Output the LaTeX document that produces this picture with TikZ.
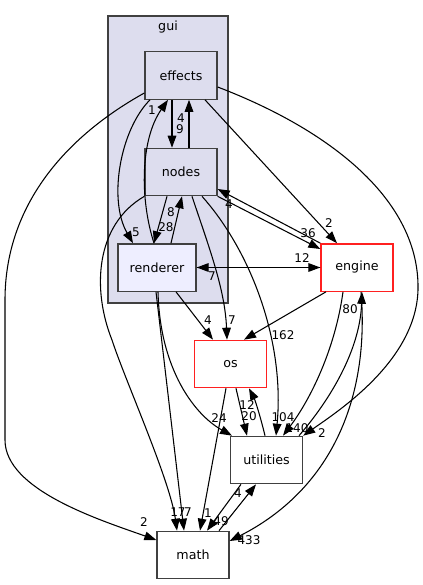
\documentclass[tikz,border=0pt]{standalone}
\usepackage{fontspec}
\setmainfont{DejaVu Sans}
\usetikzlibrary{arrows.meta}
\definecolor{guifill}{HTML}{DDDDEE}
\definecolor{rendfill}{HTML}{EEEEFF}
\definecolor{boxline}{HTML}{404040}
\definecolor{redline}{HTML}{FF2020}
\begin{document}
\begin{tikzpicture}[x=0.75pt,y=-0.75pt,
	dir/.style={draw=boxline,line width=1pt,minimum width=54pt,minimum height=35.5pt,inner sep=0pt,font=\fontsize{9.5}{11}\selectfont},
	dep/.style={-{Triangle[length=9pt,width=6.5pt]},line width=0.8pt},
	num/.style={inner sep=0pt,font=\fontsize{9}{10}\selectfont}]
	\useasboundingbox (0,0) rectangle (422,585);
	\node[draw=boxline,fill=guifill,line width=1pt,minimum width=90pt,minimum height=215.25pt] (gui) at (168,159.5) {};
	\node[font=\fontsize{9.5}{11}\selectfont] (guilbl) at (168,27) {gui};
	\node[dir,fill=guifill] (effects) at (181,75.5) {effects};
	\node[dir,fill=guifill] (nodes) at (181,172) {nodes};
	\node[dir,fill=rendfill,minimum width=58.5pt] (renderer) at (157,267.5) {renderer};
	\node[dir,draw=redline,fill=white] (engine) at (357,267.5) {engine};
	\node[dir,draw=redline,fill=white] (os) at (230.5,364) {os};
	\node[dir,fill=white] (utilities) at (266.5,460) {utilities};
	\node[dir,fill=white] (math) at (193,555) {math};
	\draw[dep] (effects.south -| 172,0) -- (nodes.north -| 172,0);
	\draw[dep] (nodes.north -| 189,0) -- (effects.south -| 189,0);
	\draw[dep] (effects.south -| 150,0) .. controls (120,130) and (108,200) .. (renderer.north -| 133,0);
	\draw[dep] (renderer.north -| 154,0) .. controls (140,200) and (140,140) .. (effects.south -| 168,0);
	\draw[dep] (nodes.south -| 167,0) -- (renderer.north -| 154,0);
	\draw[dep] (renderer.north -| 171,0) -- (nodes.south -| 182,0);
	\draw[dep] (effects.west |- 0,93) .. controls (60,140) and (5,210) .. (5,300) -- (5,440) .. controls (5,490) and (100,520) .. (math.west |- 0,540);
	\draw[dep] (nodes.south west) .. controls (95,225) and (92,290) .. (112,340) .. controls (125,380) and (170,480) .. (math.north -| 177,0);
	\draw[dep] (renderer.south -| 156,0) -- (math.north -| 184,0);
	\draw[dep] (renderer.south -| 158,0) .. controls (160,370) and (195,415) .. (utilities.north -| 232,0);
	\draw[dep] (renderer.south -| 176,0) -- (os.north -| 213,0);
	\draw[dep] (nodes.south -| 192,0) .. controls (210,250) and (225,290) .. (os.north -| 227,0);
	\draw[dep] (nodes.south -| 202,0) .. controls (250,250) and (285,340) .. (utilities.north -| 276,0);
	\draw[dep] (engine.north west) -- (nodes.east |- 0,189);
	\draw[dep] (nodes.south east) -- (engine.west |- 0,249);
	\draw[dep] (effects.south -| 205,0) -- (engine.north -| 337,0);
	\draw[dep] (effects.east |- 0,87) .. controls (330,130) and (420,200) .. (418,290) .. controls (416,360) and (340,410) .. (utilities.north east);
	\draw[dep] (renderer.east) -- (engine.west);
	\draw[dep] (engine.west) -- (renderer.east);
	\draw[dep] (engine.south -| 326,0) -- (os.north -| 244,0);
	\draw[dep] (engine.south -| 343,0) .. controls (335,350) and (310,400) .. (utilities.north -| 283,0);
	\draw[dep] (utilities.north -| 299,0) .. controls (330,400) and (360,350) .. (engine.south -| 362,0);
	\draw[dep] (engine.south -| 361,0) .. controls (370,400) and (330,490) .. (math.east |- 0,541);
	\draw[dep] (os.south -| 236,0) -- (utilities.north -| 247,0);
	\draw[dep] (utilities.north -| 265,0) .. controls (260,415) and (255,400) .. (os.south -| 249,0);
	\draw[dep] (os.south -| 226,0) -- (math.north -| 200,0);
	\draw[dep] (utilities.south -| 241,0) -- (math.north -| 207,0);
	\draw[dep] (math.north -| 219,0) -- (utilities.south -| 256,0);
	\node[num] (l1) at (180,129) {9};
	\node[num] (l2) at (181,118) {4};
	\node[num] (l3) at (136,232) {5};
	\node[num] (l4) at (152,110) {1};
	\node[num] (l5) at (166,227) {28};
	\node[num] (l6) at (171,212) {8};
	\node[num] (l7) at (144,522) {2};
	\node[num] (l8) at (178,512) {17};
	\node[num] (l9) at (188,512) {7};
	\node[num] (l10) at (219,418) {24};
	\node[num] (l11) at (208,320) {4};
	\node[num] (l12) at (232,320) {7};
	\node[num] (l13) at (283,417) {104};
	\node[num] (l14) at (229,204) {4};
	\node[num] (l15) at (308,233) {36};
	\node[num] (l16) at (329,223) {2};
	\node[num] (l17) at (322,433) {2};
	\node[num] (l18) at (302,258) {12};
	\node[num] (l19) at (212,276) {7};
	\node[num] (l20) at (283,335) {162};
	\node[num] (l21) at (297,428) {140};
	\node[num] (l22) at (350,309) {80};
	\node[num] (l23) at (249,540) {433};
	\node[num] (l24) at (249,416) {20};
	\node[num] (l25) at (247,405) {12};
	\node[num] (l26) at (208,513) {1};
	\node[num] (l27) at (221,521) {49};
	\node[num] (l28) at (238,493) {4};
\end{tikzpicture}
\end{document}
